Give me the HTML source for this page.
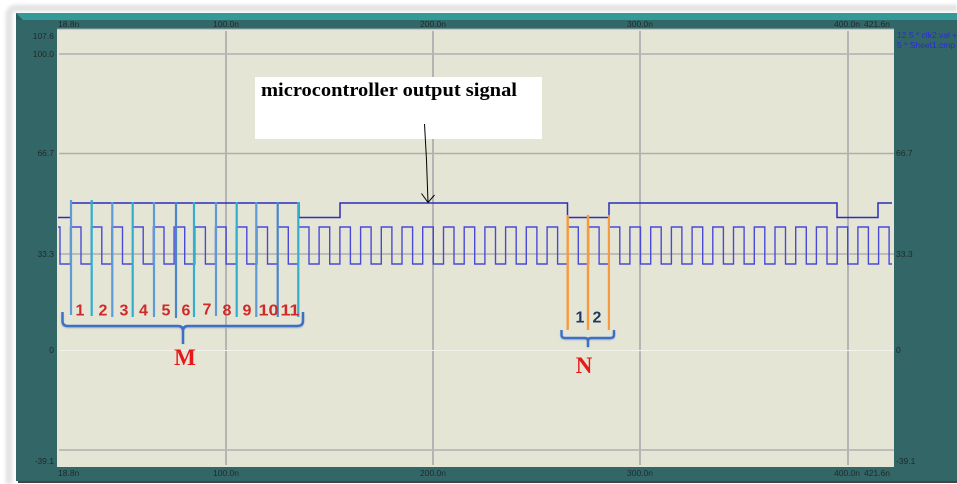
<!DOCTYPE html>
<html><head><meta charset="utf-8"><style>
html,body{margin:0;padding:0;background:#fff}
body{width:957px;height:484px;overflow:hidden}
svg{display:block}
</style></head><body>
<svg xmlns="http://www.w3.org/2000/svg" width="957" height="484" viewBox="0 0 957 484">
<defs><filter id="b" x="-5%" y="-5%" width="110%" height="110%"><feGaussianBlur stdDeviation="1.6"/></filter>
<filter id="s" x="-5%" y="-20%" width="110%" height="140%"><feGaussianBlur stdDeviation="0.35"/></filter>
<filter id="w" x="-2%" y="-10%" width="104%" height="120%"><feGaussianBlur stdDeviation="0.3"/></filter>
<filter id="sh" x="-10%" y="-30%" width="120%" height="160%"><feGaussianBlur stdDeviation="0.9"/></filter></defs>
<rect width="957" height="484" fill="#fff"/>
<path d="M9 484V16Q9 8 17 8H957" fill="none" stroke="#e4e4e4" stroke-width="7" filter="url(#b)"/>
<rect x="16" y="13" width="941" height="468" fill="#336666"/>
<rect x="16" y="13" width="941" height="7" fill="#339999"/>
<path d="M16 13L23 20H16Z" fill="#2a6060"/>
<rect x="18" y="481" width="939" height="2" fill="#444"/>
<rect x="57" y="29" width="837" height="438" fill="#e5e5d5"/>
<rect x="57" y="28.500" width="837" height="1" fill="#9ab"/>
<g stroke="#aeaeae" stroke-width="1.500" fill="none" filter="url(#w)">
<path d="M59 54H894M59 153.500H894M59 254H894M59 450H894"/>
<path d="M226 31V465M433 31V465M640 31V465M848 31V465" stroke="#b4b4b4" stroke-width="2"/>
</g>
<path d="M59 350.500H894" stroke="#f2f2ea" stroke-width="1"/>
<g font-family="'Liberation Sans',sans-serif" font-size="8.500" fill="#1e2a2a" filter="url(#s)">
<text x="58" y="27">18.8n</text><text x="213" y="27">100.0n</text><text x="420" y="27">200.0n</text><text x="627" y="27">300.0n</text><text x="834" y="27">400.0n</text><text x="864" y="27">421.6n</text>
<text x="58" y="476">18.8n</text><text x="213" y="476">100.0n</text><text x="420" y="476">200.0n</text><text x="627" y="476">300.0n</text><text x="834" y="476">400.0n</text><text x="864" y="476">421.6n</text>
<g text-anchor="end"><text x="54" y="39">107.6</text><text x="54" y="57">100.0</text><text x="54" y="156">66.7</text><text x="54" y="257">33.3</text><text x="54" y="353">0</text><text x="54" y="464">-39.1</text></g>
<text x="896" y="156">66.7</text><text x="896" y="257">33.3</text><text x="896" y="353">0</text><text x="896" y="464">-39.1</text>
<g fill="#2a2ae0"><text x="897" y="38">12.5 * clk2.val +</text><text x="897" y="48">5 * Sheet1.cmp</text></g>
</g>
<polyline filter="url(#w)" fill="none" stroke="#4a4ad8" stroke-width="1.400" points="58,227 60,227 60,264 70.500,264 70.500,227 81,227 81,264 91.200,264 91.200,227 101.800,227 101.800,264 111.900,264 111.900,227 122.500,227 122.500,264 132.700,264 132.700,227 143.200,227 143.200,264 153.400,264 153.400,227 164,227 164,264 174.100,264 174.100,227 184.700,227 184.700,264 194.800,264 194.800,227 205.400,227 205.400,264 215.500,264 215.500,227 226.100,227 226.100,264 236.300,264 236.300,227 246.800,227 246.800,264 257,264 257,227 267.500,227 267.500,264 277.700,264 277.700,227 288.300,227 288.300,264 298.400,264 298.400,227 309,227 309,264 319.100,264 319.100,227 329.700,227 329.700,264 339.900,264 339.900,227 350.400,227 350.400,264 360.600,264 360.600,227 371.100,227 371.100,264 381.300,264 381.300,227 391.900,227 391.900,264 402,264 402,227 412.600,227 412.600,264 422.700,264 422.700,227 433.300,227 433.300,264 443.500,264 443.500,227 454,227 454,264 464.200,264 464.200,227 474.700,227 474.700,264 484.900,264 484.900,227 495.500,227 495.500,264 505.600,264 505.600,227 516.200,227 516.200,264 526.300,264 526.300,227 536.900,227 536.900,264 547.100,264 547.100,227 557.600,227 557.600,264 567.800,264 567.800,227 578.300,227 578.300,264 588.500,264 588.500,227 599.100,227 599.100,264 609.200,264 609.200,227 619.800,227 619.800,264 629.900,264 629.900,227 640.500,227 640.500,264 650.700,264 650.700,227 661.200,227 661.200,264 671.400,264 671.400,227 681.900,227 681.900,264 692.100,264 692.100,227 702.700,227 702.700,264 712.800,264 712.800,227 723.400,227 723.400,264 733.500,264 733.500,227 744.100,227 744.100,264 754.300,264 754.300,227 764.800,227 764.800,264 775,264 775,227 785.500,227 785.500,264 795.700,264 795.700,227 806.300,227 806.300,264 816.400,264 816.400,227 827,227 827,264 837.100,264 837.100,227 847.700,227 847.700,264 857.900,264 857.900,227 868.400,227 868.400,264 878.600,264 878.600,227 889.100,227 889.100,264 892,264"/>
<polyline filter="url(#w)" fill="none" stroke="#2e2ec0" stroke-width="1.500" points="58,217.500 71,217.500 71,203 299,203 299,217.500 340,217.500 340,203 567.500,203 567.500,217.500 609,217.500 609,203 837,203 837,217.500 878,217.500 878,203 892,203"/>
<g stroke-width="2.200" fill="none" stroke="#5b9bd5" filter="url(#w)">
<path d="M71 200V315M112.300 202V317M154 202V317M216 202V316M256.300 202V317" />
<path d="M176 202V318M277.700 202V317" stroke="#4a86c8"/>
<path d="M91.700 200V316M132.700 202V317M194 202V317M236.700 202V317M298.300 202V317" stroke="#30aed0"/>
</g>
<path d="M567.700 215V330M588 215V330M609 215V330" stroke="#f79a3e" stroke-width="2.400" fill="none" filter="url(#w)"/>
<g fill="none" stroke-width="2.400">
<path d="M62.500 313V322Q62.500 327 68 327H178Q183 327 183 332V344V332Q183 327 188 327H297Q303 327 303 322V313M561.500 331V336Q561.500 339 565 339H585Q588 339 588 342V348V342Q588 339 591 339H610Q614 339 614 336V331" stroke="#a9b9c9" filter="url(#sh)"/>
<path d="M62.500 312V321Q62.500 326 68 326H178Q183 326 183 331V344V331Q183 326 188 326H297Q303 326 303 321V312" stroke="#3d6fc4"/>
<path d="M561.500 330V335Q561.500 338 565 338H585Q588 338 588 341V347V341Q588 338 591 338H610Q614 338 614 335V330" stroke="#3d6fc4"/>
</g>
<g font-family="'Liberation Sans',sans-serif" font-size="16" font-weight="bold" fill="#cf2a2a" text-anchor="middle">
<text x="80" y="315.500">1</text><text x="103" y="315.500">2</text><text x="124" y="315.500">3</text><text x="143.500" y="315.500">4</text><text x="166" y="315.500">5</text><text x="186" y="315.500">6</text><text x="207" y="314.500">7</text><text x="227" y="315.500">8</text><text x="247" y="315.500">9</text><text x="268.500" y="315.500" textLength="20" lengthAdjust="spacingAndGlyphs">10</text><text x="290" y="315.500" textLength="19" lengthAdjust="spacingAndGlyphs">11</text>
</g>
<g font-family="'Liberation Sans',sans-serif" font-size="16" font-weight="bold" fill="#1f3864" text-anchor="middle">
<text x="580" y="322.500">1</text><text x="597" y="322.500">2</text>
</g>
<g font-family="'Liberation Serif',serif" font-size="23" font-weight="bold" fill="#e81818" text-anchor="middle">
<text x="185" y="365">M</text><text x="584" y="373">N</text>
</g>
<rect x="255" y="77" width="287" height="62" fill="#fff"/>
<text x="261" y="96" font-family="'Liberation Serif',serif" font-size="19" font-weight="bold" fill="#000" textLength="256" lengthAdjust="spacingAndGlyphs">microcontroller output signal</text>
<path d="M424.500 124L426.500 160L428 202.500M421.500 193.500L428 202.500L434.500 195" fill="none" stroke="#000" stroke-width="1"/>
</svg>
</body></html>
